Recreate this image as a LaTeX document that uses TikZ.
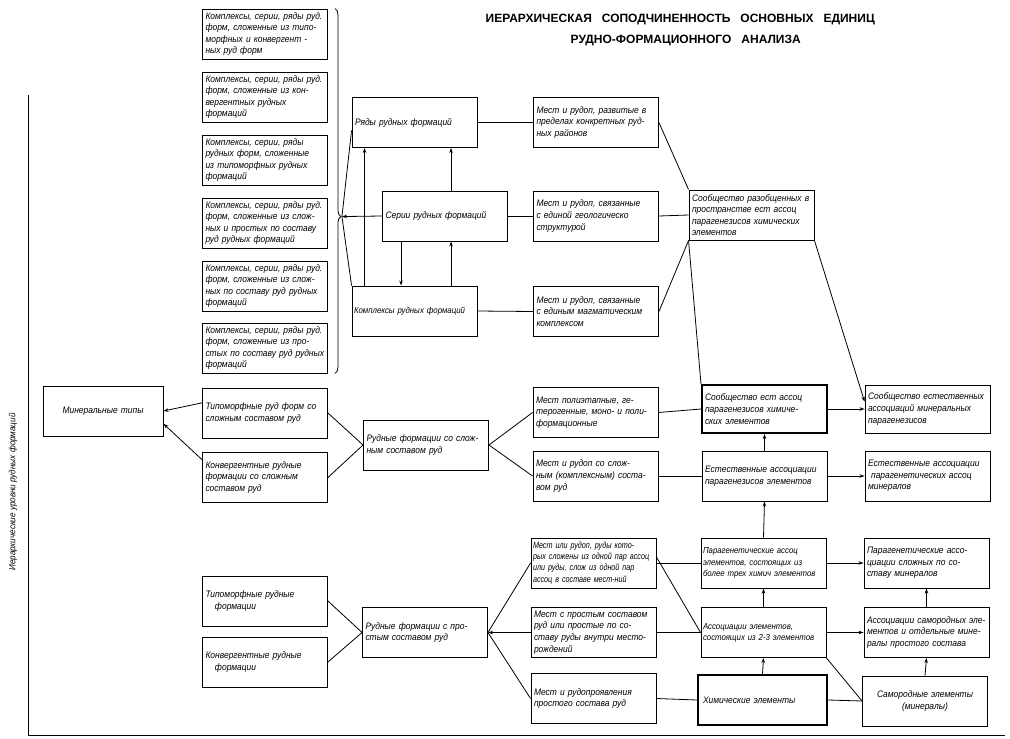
\documentclass[tikz,border=0pt]{standalone}
\usepackage{fontspec}
\setmainfont{Liberation Sans}
\newfontfamily\hand[FakeStretch=0.9]{Liberation Sans}
\newfontfamily\handn[FakeStretch=0.8]{Liberation Sans}
\usetikzlibrary{arrows.meta,positioning,calc,decorations.pathreplacing}

\begin{document}
\begin{tikzpicture}[x=1pt,y=-1pt,>={Stealth[length=5pt,width=3.5pt]},line width=0.8pt]
\tikzstyle{b}=[draw,line width=0.9pt,minimum width=124pt,minimum height=50pt,inner sep=3pt,text width=119pt,align=left,font=\hand\itshape\fontsize{9.4}{11.6}\selectfont]
\tikzstyle{bn}=[b,inner sep=2pt,text width=121pt,font=\hand\itshape\fontsize{8.7}{11.2}\selectfont]
\tikzstyle{bb}=[b,line width=2pt]
\useasboundingbox (0,0) rectangle (1010,739);
\node[font=\bfseries\fontsize{12}{14}\selectfont,anchor=base west] (t1) at (482,22) {ИЕРАРХИЧЕСКАЯ\hspace{10pt}СОПОДЧИНЕННОСТЬ\hspace{10pt}ОСНОВНЫХ\hspace{10pt}ЕДИНИЦ};
\node[font=\bfseries\fontsize{12}{14}\selectfont,anchor=base west] (t2) at (567,43) {РУДНО-ФОРМАЦИОННОГО\hspace{10pt}АНАЛИЗА};
\node[rotate=90,font=\hand\itshape\fontsize{9}{10}\selectfont] (lev) at (13,492) {Иерархические уровни рудных формаций};
\draw (28,95) -- (28,735) -- (1005,735);
\foreach \y/\n/\t in {34/l1/{Комплексы, серии, ряды руд.\\форм, сложенные из типо-\\морфных и конвергент -\\ных руд форм},
  97/l2/{Комплексы, серии, ряды руд.\\форм, сложенные из кон-\\вергентных рудных\\формаций},
  160/l3/{Комплексы, серии, ряды\\рудных форм, сложенные\\из типоморфных рудных\\формаций},
  223/l4/{Комплексы, серии, ряды руд.\\форм, сложенные из слож-\\ных и простых по составу\\руд рудных формаций},
  286/l5/{Комплексы, серии, ряды руд.\\форм, сложенные из слож-\\ных по составу руд рудных\\формаций},
  348/l6/{Комплексы, серии, ряды руд.\\форм, сложенные из про-\\стых по составу руд рудных\\формаций}}
  \node[b] (\n) at (265,\y) {\t};
\draw[decorate,decoration={brace,amplitude=6pt,aspect=0.57}] ([xshift=7pt]l1.north east) -- ([xshift=7pt]l6.south east);
\coordinate (br) at ($(l1.north east)!0.57!(l6.south east)+(14,0)$);
\node[b] (r1) at (414.5,122.5) {Ряды рудных формаций};
\node[b] (s) at (445,216) {Серии рудных формаций};
\node[bn] (k) at (414.5,311) {Комплексы рудных формаций};
\node[b] (m1) at (596,122.5) {Мест и рудоп, развитые в\\пределах конкретных руд-\\ных районов};
\node[b] (m2) at (596,216) {Мест и рудоп, связанные\\с единой геологическо\\структурой};
\node[b] (m3) at (596,311.5) {Мест и рудоп, связанные\\с единым магматическим\\комплексом};
\node[b] (sr) at (751.5,215) {Сообщество разобщенных в\\пространстве ест ассоц\\парагенезисов химических\\элементов};
\draw[->] (s.west) -- (br);
\draw ([yshift=-8pt]r1.west) -- (br);
\draw (k.north west) -- (br);
\draw[->] ([xshift=13pt]k.north west) -- ([xshift=13pt]r1.south west);
\draw[->] ([xshift=69pt]s.north west) -- ([xshift=69pt]s.north west |- r1.south);
\draw[->] ([xshift=19pt]s.south west) -- ([xshift=19pt]s.south west |- k.north);
\draw[->] ([xshift=69pt]s.south west |- k.north) -- ([xshift=69pt]s.south west);
\draw (r1.east) -- (m1.west);
\draw (s.east) -- (m2.west);
\draw (k.east) -- (m3.west);
\draw (m1.east) -- (sr.north west);
\draw (m2.east) -- (sr.west);
\draw (m3.east) -- (sr.south west);
\node[b,minimum width=120pt,text width=114pt,align=center] (mt) at (103,411) {Минеральные типы};
\node[b] (tp1) at (265,413) {Типоморфные руд форм со\\сложным составом руд};
\node[b] (kv1) at (265,477.5) {Конвергентные рудные\\формации со сложным\\составом руд};
\node[b] (rs) at (426,445) {Рудные формации со слож-\\ным составом руд};
\node[b] (mp) at (595.5,412.5) {Мест полиэтапные, ге-\\терогенные, моно- и поли-\\формационные};
\node[b] (ms) at (595.5,476) {Мест и рудоп со слож-\\ным (комплексным) соста-\\вом руд};
\node[bb,minimum height=48pt] (se) at (764.5,409) {Сообщество ест ассоц\\парагенезисов химиче-\\ских элементов};
\node[b] (ea) at (764.5,476) {Естественные ассоциации\\парагенезисов элементов};
\node[b,minimum height=48pt] (sem) at (927.5,409) {Сообщество естественных\\ассоциаций минеральных\\парагенезисов};
\node[b] (eam) at (927.5,476) {Естественные ассоциации\\\ парагенетических ассоц\\минералов};
\draw[->] ($(tp1.north west)!0.3!(tp1.south west)$) -- (mt.east);
\draw[->] ($(kv1.north west)!0.15!(kv1.south west)$) -- ($(mt.north east)!0.75!(mt.south east)$);
\draw (tp1.east) -- (rs.west);
\draw (kv1.east) -- (rs.west);
\draw (rs.east) -- (mp.west);
\draw (rs.east) -- (ms.west);
\draw (mp.east) -- (se.west);
\draw (ms.east) -- (ea.west);
\draw[->] (se.east) -- (sem.west);
\draw[->] (ea.east) -- (eam.west);
\draw[->] (ea.north) -- (se.south);
\draw (se.north west) -- (sr.south west);
\draw[->] (sr.south east) -- ($(sem.north west)!0.35!(sem.south west)$);
\node[b] (tp2) at (265,601) {Типоморфные рудные\\\quad формации};
\node[b] (kv2) at (265,662) {Конвергентные рудные\\\quad формации};
\node[b] (rp) at (425,632.5) {Рудные формации с про-\\стым составом руд};
\node[b,inner sep=2pt,text width=121pt,font=\handn\itshape\fontsize{9}{11.2}\selectfont] (mr) at (593.5,563) {Мест или рудоп, руды кото-\\рых сложены из одной пар ассоц\\или руды, слож из одной пар\\ассоц в составе мест-ний};
\node[b] (mq) at (593.5,632.5) {Мест с простым составом\\руд или простые по со-\\ставу руды внутри место-\\рождений};
\node[b] (mu) at (593.5,698.5) {Мест и рудопроявления\\простого состава руд};
\node[bn] (pe) at (763.5,563) {Парагенетические ассоц\\элементов, состоящих из\\более трех химич элементов};
\node[bn] (a2) at (763.5,632.5) {Ассоциации элементов,\\состоящих из 2-3 элементов};
\node[bb,minimum width=129pt] (he) at (762.5,700) {Химические элементы};
\node[b] (pm) at (926.5,563) {Парагенетические ассо-\\циации сложных по со-\\ставу минералов};
\node[b] (as) at (926.5,632.5) {Ассоциации самородных эле-\\ментов и отдельные мине-\\ралы простого состава};
\node[b,align=center] (sm) at (925,701) {Самородные элементы\\(минералы)};
\draw (tp2.east) -- (rp.west);
\draw (kv2.east) -- (rp.west);
\draw (rp.east) -- (mr.west);
\draw[->] (mq.west) -- (rp.east);
\draw (rp.east) -- (mu.west);
\draw (mr.east) -- (pe.west);
\draw (mq.east) -- (a2.west);
\draw (mu.east) -- (he.west);
\draw ([yshift=6pt]mr.east) -- (a2.west);
\draw[->] (pe.north) -- (ea.south);
\draw[->] (a2.north) -- (pe.south);
\draw[->] (he.north) -- (a2.south);
\draw[->] (pe.east) -- (pm.west);
\draw[->] (a2.east) -- (as.west);
\draw (a2.south east) -- (sm.west);
\draw (he.east) -- (sm.west);
\draw[->] (as.north) -- (pm.south);
\draw[->] (sm.north) -- (as.south);
\end{tikzpicture}
\end{document}
